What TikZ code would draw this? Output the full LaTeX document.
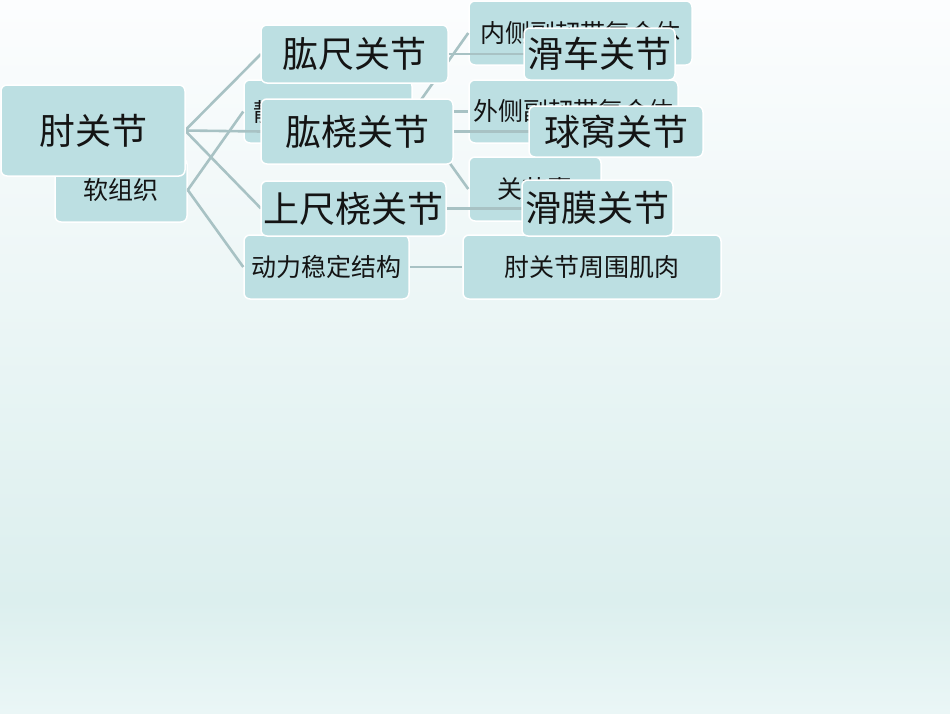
\documentclass[tikz,border=0pt]{standalone}
\usepackage{fontspec}
\setmainfont{Noto Sans CJK SC}
\definecolor{boxfill}{HTML}{BCDFE2}
\definecolor{linkc}{HTML}{A8C2C4}
\definecolor{bgtop}{HTML}{FCFDFE}
\definecolor{bgmid}{HTML}{ECF6F6}
\definecolor{bgdark}{HTML}{DCEFEE}
\definecolor{bgbot}{HTML}{EAF6F6}
\definecolor{txt}{HTML}{141414}
\tikzset{
  boxbase/.style={draw=white, line width=1.5pt, fill=boxfill, rounded corners=6pt, inner sep=0pt, text=txt, align=center},
  smallbox/.style={boxbase, font=\fontsize{25}{28}\selectfont},
  bigbox/.style={boxbase, font=\fontsize{36}{40}\selectfont},
  link/.style={draw=linkc, line width=2.6pt}
}
\begin{document}
\begin{tikzpicture}[x=1pt,y=-1pt]
\useasboundingbox (0,0) rectangle (950,713);
% background
\shade[top color=bgtop, bottom color=bgmid] (0,0) rectangle (950,300.5);
\shade[top color=bgmid, bottom color=bgdark] (0,300) rectangle (950,600.5);
\shade[top color=bgdark, bottom color=bgbot] (0,600) rectangle (950,713);
% back hierarchy
\node[smallbox, minimum width=132pt, minimum height=64pt] (soft) at (121,190) {软组织};
\node[smallbox, minimum width=168pt, minimum height=63pt] (static) at (328,111.5) {静力稳定结构};
\node[smallbox, minimum width=165pt, minimum height=64pt] (dynamic) at (326.5,267) {动力稳定结构};
\node[smallbox, minimum width=223pt, minimum height=64pt] (med) at (580.5,33) {内侧副韧带复合体};
\node[smallbox, minimum width=209pt, minimum height=63pt] (lat) at (573.5,111.5) {外侧副韧带复合体};
\node[smallbox, minimum width=132pt, minimum height=64pt] (caps) at (535,189) {关节囊};
\node[smallbox, minimum width=258pt, minimum height=64pt] (musc) at (592,267) {肘关节周围肌肉};
\begin{scope}[on background layer/.style={}]
\draw[link] (soft.east) -- (static.west);
\draw[link] (soft.east) -- (dynamic.west);
\draw[link] (static.east) -- (med.west);
\draw[link] (static.east) -- (lat.west);
\draw[link] (static.east) -- (caps.west);
\draw[link] (dynamic.east) -- (musc.west);
\end{scope}
% front hierarchy (coordinates for connector ends)
\coordinate (elbowE) at (185,130.5);
\coordinate (huW) at (261,54);
\coordinate (hrW) at (261,131.5);
\coordinate (pruW) at (261,208.5);
\coordinate (huE) at (448,54);
\coordinate (hrE) at (453,131.5);
\coordinate (pruE) at (446,208.5);
\coordinate (trW) at (524,54);
\coordinate (baW) at (529,131.5);
\coordinate (syW) at (522,208.5);
\draw[link] (elbowE) -- (huW);
\draw[link] (elbowE) -- (hrW);
\draw[link] (elbowE) -- (pruW);
\draw[link] (huE) -- (trW);
\draw[link] (hrE) -- (baW);
\draw[link] (pruE) -- (syW);
\node[bigbox, minimum width=184pt, minimum height=91pt] (elbow) at (93,130.5) {肘关节};
\node[bigbox, minimum width=187pt, minimum height=58pt] (hu) at (354.5,54) {肱尺关节};
\node[bigbox, minimum width=192pt, minimum height=65pt] (hr) at (357,131.5) {肱桡关节};
\node[bigbox, minimum width=185pt, minimum height=55pt] (pru) at (353.5,208.5) {上尺桡关节};
\node[bigbox, minimum width=151pt, minimum height=52pt] (troch) at (599.5,54) {滑车关节};
\node[bigbox, minimum width=174pt, minimum height=51pt] (ball) at (616,131.5) {球窝关节};
\node[bigbox, minimum width=151pt, minimum height=56pt] (syn) at (597.5,208) {滑膜关节};
\end{tikzpicture}
\end{document}
